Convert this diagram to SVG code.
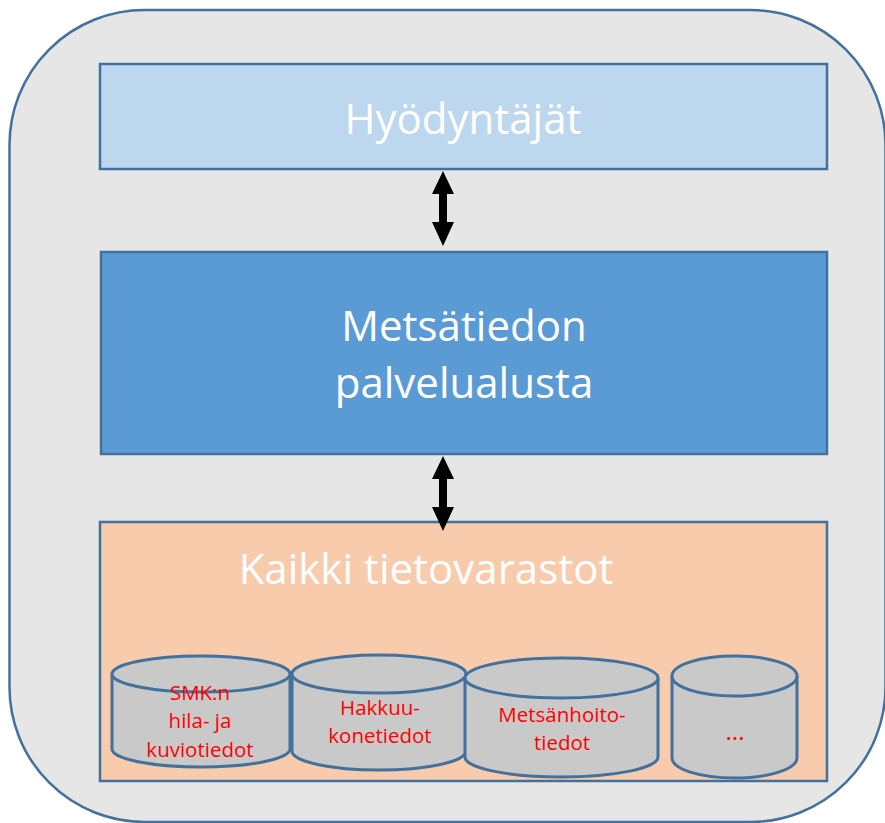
<svg xmlns="http://www.w3.org/2000/svg" width="885" height="823" viewBox="0 0 885 823">
<defs>
<style>
.box{stroke:#41719C;stroke-width:2.5}
.big{font-family:"Open Sans","Liberation Sans",sans-serif;font-size:42px;fill:#ffffff;text-anchor:middle}
.cyl{fill:#C9C9C9;stroke:#41719C;stroke-width:3}
.lbl{font-family:"Open Sans","Liberation Sans",sans-serif;font-size:20.5px;fill:#FF0000;text-anchor:middle}
.arr{fill:#000000}
</style>
</defs>
<rect width="885" height="823" fill="#ffffff"/>
<rect x="9.5" y="10" width="876" height="812" rx="135" ry="135" fill="#E6E6E6" stroke="#41719C" stroke-width="2.5"/>
<g id="hyodyntajat">
<rect class="box" x="100" y="64" width="727" height="105" fill="#BDD7EE"/>
<text class="big" x="463" y="134">Hyödyntäjät</text>
</g>
<g id="palvelualusta">
<rect class="box" x="101" y="252" width="726" height="202" fill="#5B9BD5"/>
<text class="big" x="464" y="341">Metsätiedon</text>
<text class="big" x="464" y="398">palvelualusta</text>
</g>
<g id="tietovarastot">
<rect class="box" x="100" y="522" width="727" height="259" fill="#F8CBAD"/>
<text class="big" x="426" y="584">Kaikki tietovarastot</text>
</g>
<g id="smk">
<path class="cyl" d="M112,674 L112,749 A89,18 0 0 0 290,749 L290,674"/>
<ellipse class="cyl" cx="201" cy="674" rx="89" ry="18"/>
<text class="lbl" x="200" y="700">SMK:n</text>
<text class="lbl" x="200" y="728">hila- ja</text>
<text class="lbl" x="200" y="757">kuviotiedot</text>
</g>
<g id="hakkuu">
<path class="cyl" d="M292,674 L292,751 A87,19 0 0 0 466,751 L466,674"/>
<ellipse class="cyl" cx="379" cy="674" rx="87" ry="19"/>
<text class="lbl" x="380" y="715">Hakkuu-</text>
<text class="lbl" x="380" y="743">konetiedot</text>
</g>
<g id="metsanhoito">
<path class="cyl" d="M465,678 L465,757 A96.5,20 0 0 0 658,757 L658,678"/>
<ellipse class="cyl" cx="561.5" cy="678" rx="96.5" ry="20"/>
<text class="lbl" x="562" y="722">Metsänhoito-</text>
<text class="lbl" x="562" y="750">tiedot</text>
</g>
<g id="muut">
<path class="cyl" d="M672,676 L672,758 A62.5,20 0 0 0 797,758 L797,676"/>
<ellipse class="cyl" cx="734.5" cy="676" rx="62.5" ry="20"/>
<text class="lbl" x="735" y="740" style="font-size:24px">...</text>
</g>
<g id="connectors">
<polygon class="arr" points="443,171 454,194 447,194 447,222 454,222 443,246 432,222 439,222 439,194 432,194"/>
<polygon class="arr" points="443,456 454,479 447,479 447,507 454,507 443,531 432,507 439,507 439,479 432,479"/>
</g>
</svg>
